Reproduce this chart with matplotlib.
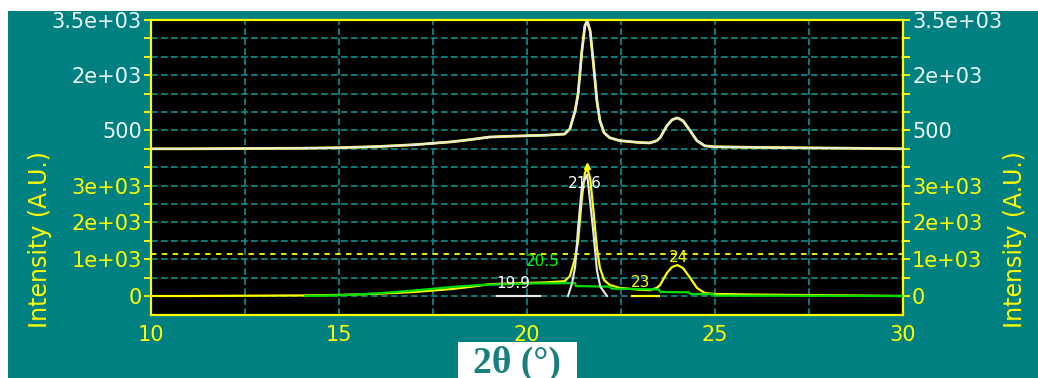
import numpy as np
import matplotlib
matplotlib.use("Agg")
import matplotlib.pyplot as plt
from matplotlib.patches import Rectangle

two_theta = [10.0, 11.0, 12.0, 13.0, 14.0, 15.0, 16.0, 17.0, 17.5, 18.0, 18.5,
             19.0, 19.5, 20.0, 20.5, 21.0, 21.14, 21.28, 21.36, 21.46, 21.54,
             21.6, 21.68, 21.76, 21.86, 21.94, 22.05, 22.2, 22.47, 23.0, 23.27,
             23.45, 23.54, 23.72, 23.86, 24.0, 24.15, 24.34, 24.52, 24.73, 25.0,
             26.0, 27.0, 28.6, 30.0]
intensity = [0, 0, 5, 10, 15, 30, 60, 110, 150, 190, 250,
             320, 340, 355, 370, 400, 540, 1030, 1500, 2660, 3340,
             3480, 3200, 2390, 1300, 760, 435, 300, 220, 170, 160,
             220, 300, 625, 790, 840, 760, 490, 220, 80, 55,
             40, 30, 15, 0]

# fitted components
bg_theta = [14.1, 15.0, 16.0, 17.0, 18.0, 18.75, 20.0, 21.28, 21.3, 22.2, 22.25,
            23.5, 23.55, 24.3, 24.35, 24.95, 25.0, 30.0]
bg_int = [0, 20, 70, 150, 245, 300, 340, 350, 270, 255, 200,
          180, 110, 100, 55, 50, 10, 0]

p216_theta = [21.09, 21.2, 21.28, 21.36, 21.46, 21.6, 21.75, 21.86, 21.95, 22.13]
p216_int = [0, 350, 790, 1875, 3000, 3300, 1875, 700, 250, 0]

p199_theta = [19.2, 20.35]
p199_int = [0, 0]
p23_theta = [22.8, 23.5]
p23_int = [0, 0]

peak_text = ["19.9", "20.5", "21.6", "23", "24"]
peak_pos = [19.9, 20.5, 21.6, 23.0, 24.0]
peak_colors = ["white", "#00ff00", "white", "#ffff00", "#ffff00"]

threshold = 1150
upper_offset = 4000
lower_ticks = [0, 1000, 2000, 3000]
lower_tick_text = ["0", "1e+03", "2e+03", "3e+03"]
upper_ticks = [500, 2000, 3500]
upper_tick_text = ["500", "2e+03", "3.5e+03"]
x_ticks = [10, 15, 20, 25, 30]

TEAL = "#008080"
YEL = "#ffff00"
GRID = "#0f8f8f"
WHITE = "#eef6f6"

W, H = 1038, 378
fig = plt.figure(figsize=(W / 100, H / 100), dpi=100, facecolor="white")
fig.patches.append(Rectangle((8 / W, 0), 1, 1 - 11 / H, transform=fig.transFigure,
                             facecolor=TEAL, edgecolor="none", zorder=-5))
# white box behind the x title
fig.patches.append(Rectangle((458 / W, 0), 119 / W, 1 - 342 / H, transform=fig.transFigure,
                             facecolor="white", edgecolor="none", zorder=-4))

ax = fig.add_axes([151 / W, 1 - 315 / H, (903 - 151) / W, (315 - 20) / H])
ax.set_zorder(2)
ax.set_facecolor("black")
ax.set_xlim(10, 30)
ax.set_ylim(-516, 7500)

# grid
for gx in np.arange(12.5, 30, 2.5):
    ax.axvline(gx, color=GRID, lw=1.2, ls=(0, (4, 2)), zorder=1)
for gy in np.arange(0, 7500, 500):
    ax.axhline(gy, color=GRID, lw=1.2, ls=(0, (4, 2)), zorder=1)

ax.axhline(threshold, color=YEL, lw=1.3, ls=(0, (3, 3)), zorder=2)

# upper (offset) trace: raw + fit
up = np.array(intensity) + upper_offset
ax.plot(two_theta, up, color=YEL, lw=2.0, zorder=3)
ax.plot(two_theta, up, color="#e8e8e8", lw=1.5, zorder=4)

# lower traces
ax.plot(two_theta, intensity, color=YEL, lw=1.6, zorder=3)
ax.plot(bg_theta, bg_int, color="#00dd00", lw=1.6, zorder=4)
ax.plot(p216_theta, p216_int, color="#e8e8e8", lw=1.5, zorder=5)
ax.plot(p199_theta, p199_int, color="#e8e8e8", lw=1.6, zorder=5)
ax.plot(p23_theta, p23_int, color=YEL, lw=1.6, zorder=5)
ax.plot([21.6], [max(intensity) + 60], marker="^", ms=4, color=YEL, zorder=6)

label_dx = [-0.27, -0.07, -0.06, 0.03, 0.04]
label_y = [350, 925, 3070, 380, 1060]
for t, px, dx, ly, c in zip(peak_text, peak_pos, label_dx, label_y, peak_colors):
    ax.text(px + dx, ly, t, color=c, fontsize=11, ha="center", va="center", zorder=7)

for s in ax.spines.values():
    s.set_color(YEL)
    s.set_linewidth(1.6)

tick_locs = list(np.arange(0, 7501, 500))
tick_text, tick_cols = [], []
for v in tick_locs:
    if v in lower_ticks:
        tick_text.append(lower_tick_text[lower_ticks.index(v)])
        tick_cols.append(YEL)
    elif v - upper_offset in upper_ticks:
        tick_text.append(upper_tick_text[upper_ticks.index(v - upper_offset)])
        tick_cols.append(WHITE)
    else:
        tick_text.append("")
        tick_cols.append(YEL)
ax.set_yticks(tick_locs)
ax.set_yticklabels(tick_text)
ax.tick_params(axis="y", direction="out", length=5, width=1.4, color=YEL,
               pad=1.5, labelsize=15, left=True, right=True,
               labelleft=True, labelright=True)
for tk, c in zip(ax.yaxis.get_major_ticks(), tick_cols):
    tk.label1.set_color(c)
    tk.label2.set_color(c)

ax.set_xticks(x_ticks)
ax.tick_params(axis="x", length=0, pad=7, labelsize=15, labelcolor=YEL)

fig.text(40 / W, 1 - 240 / H, "Intensity (A.U.)", rotation=90, color=YEL,
         fontsize=17, ha="center", va="center")
fig.text(1015 / W, 1 - 240 / H, "Intensity (A.U.)", rotation=90, color=YEL,
         fontsize=17, ha="center", va="center")

fig.text(517 / W, 1 - 363 / H, "2θ (°)", family="Liberation Serif", weight="bold",
         fontsize=27, color="#1a7f7f", ha="center", va="center")

fig.savefig("out.png", dpi=100, facecolor=fig.get_facecolor())
